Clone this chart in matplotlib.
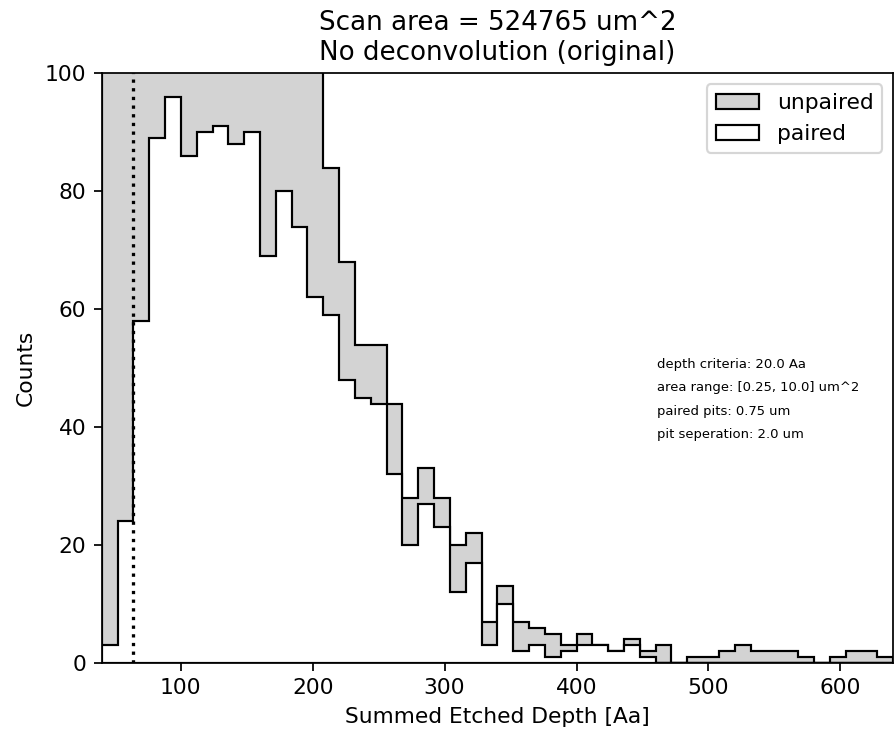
import numpy as np
import matplotlib
matplotlib.use("Agg")
import matplotlib.pyplot as plt

# histogram bins (Aa)
bin_start = 40
bin_width = 12
n_bins = 50

# gray histogram ("unpaired") - first 14 bins run off the top of the plot
unpaired = [112, 136, 158, 171, 180, 174, 168, 163, 157, 149, 141, 132, 121, 108,
            84, 68, 54, 54, 44, 28, 33, 28, 20, 22, 7, 13, 7, 6, 5, 3,
            5, 3, 2, 4, 2, 3, 0, 1, 1, 2, 3, 2, 2, 2, 1, 0, 1, 2, 2, 1]

# white histogram ("paired")
paired = [3, 24, 58, 89, 96, 86, 90, 91, 88, 90, 69, 80, 74, 62, 59, 48, 45, 44, 32, 20,
          27, 23, 12, 17, 3, 10, 2, 3, 1, 2, 3, 3, 2, 3, 1, 0, 0, 0, 0, 0,
          0, 0, 0, 0, 0, 0, 0, 0, 0, 0]

depth_cut = 64
info_lines = ["depth criteria: 20.0 Aa",
              "area range: [0.25, 10.0] um^2",
              "paired pits: 0.75 um",
              "pit seperation: 2.0 um"]

edges = bin_start + bin_width * np.arange(n_bins + 1)
centers = edges[:-1] + bin_width / 2

dpi = 157
fig = plt.figure(figsize=(894 / dpi, 733 / dpi), dpi=dpi)
ax = fig.add_axes([0.1138, 0.0955, 0.8851, 0.8045])

ax.hist(centers, bins=edges, weights=unpaired, histtype='stepfilled',
        facecolor='lightgray', edgecolor='black', linewidth=1.0, label='unpaired')
ax.hist(centers, bins=edges, weights=paired, histtype='stepfilled',
        facecolor='white', edgecolor='black', linewidth=1.0, label='paired')
ax.axvline(depth_cut, color='black', linestyle=':')

ax.set_xlim(edges[0], edges[-1])
ax.set_ylim(0, 100)
ax.set_xlabel("Summed Etched Depth [Aa]")
ax.set_ylabel("Counts")
ax.set_title("Scan area = 524765 um^2\nNo deconvolution (original)")
ax.legend(loc='upper right')

for i, line in enumerate(info_lines):
    ax.text(0.702, 0.507 - 0.04 * i, line, transform=ax.transAxes,
            fontsize=6, va='center', ha='left')

fig.savefig("out.png", dpi=dpi)
